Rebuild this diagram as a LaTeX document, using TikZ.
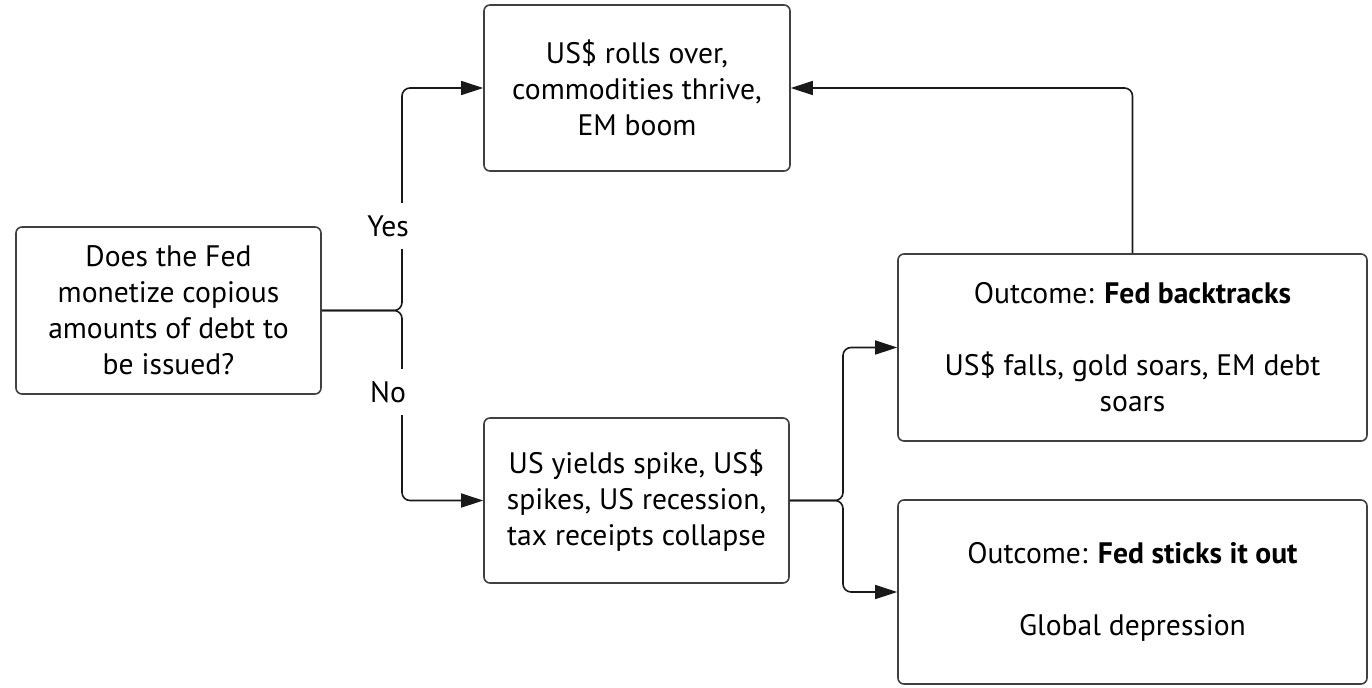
\documentclass[tikz,border=0pt]{standalone}
\usepackage{fontspec}
\setmainfont{PT Sans}
\usetikzlibrary{arrows.meta}

\tikzset{
  box/.style={draw=black!75, line width=0.8pt, rounded corners=3pt, align=center,
    inner sep=0pt, font=\fontsize{14.8}{18}\selectfont},
  link/.style={draw=black!90, line width=0.8pt, rounded corners=4pt,
    -{Triangle[length=11pt, width=7pt]}},
  lbl/.style={fill=white, inner xsep=1pt, inner ysep=6pt, font=\fontsize{14.8}{18}\selectfont}
}

\begin{document}
\begin{tikzpicture}[x=0.5pt, y=-0.5pt]
  \useasboundingbox (0,0) rectangle (1372,687);

  %% 問い
  \node[box, minimum width=152.5pt, minimum height=83.5pt] (q) at (168.5,310.5)
    {Does the Fed\\monetize copious\\amounts of debt to\\be issued?};

  %% 第一段
  \node[box, minimum width=153pt, minimum height=83pt] (top) at (637,88)
    {US\$ rolls over,\\commodities thrive,\\EM boom};
  \node[box, minimum width=152.5pt, minimum height=82.5pt] (mid) at (636.5,500.5)
    {US yields spike, US\$\\spikes, US recession,\\tax receipts collapse};

  %% 結果
  \node[box, minimum width=234.5pt, minimum height=93.5pt] (back) at (1132.5,347.5)
    {Outcome: \textbf{Fed backtracks}\\[18pt]US\$ falls, gold soars, EM debt\\soars};
  \node[box, minimum width=234.5pt, minimum height=92pt] (stick) at (1132.5,592)
    {Outcome: \textbf{Fed sticks it out}\\[18pt]Global depression};

  %% 分岐点
  \coordinate (split1) at (402,310.5);
  \coordinate (split2) at (843,500.5);

  %% 矢印
  \draw[link] (q.east) -- (split1) |- (top.west);
  \draw[link] (q.east) -- (split1) |- (mid.west);
  \draw[link] (mid.east) -- (split2) |- (back.west);
  \draw[link] (mid.east) -- (split2) |- (stick.west);
  \draw[link] (back.north) |- (top.east);

  %% ラベル
  \node[lbl] (yes) at (388,226) {Yes};
  \node[lbl] (no) at (388,392) {No};
\end{tikzpicture}
\end{document}
